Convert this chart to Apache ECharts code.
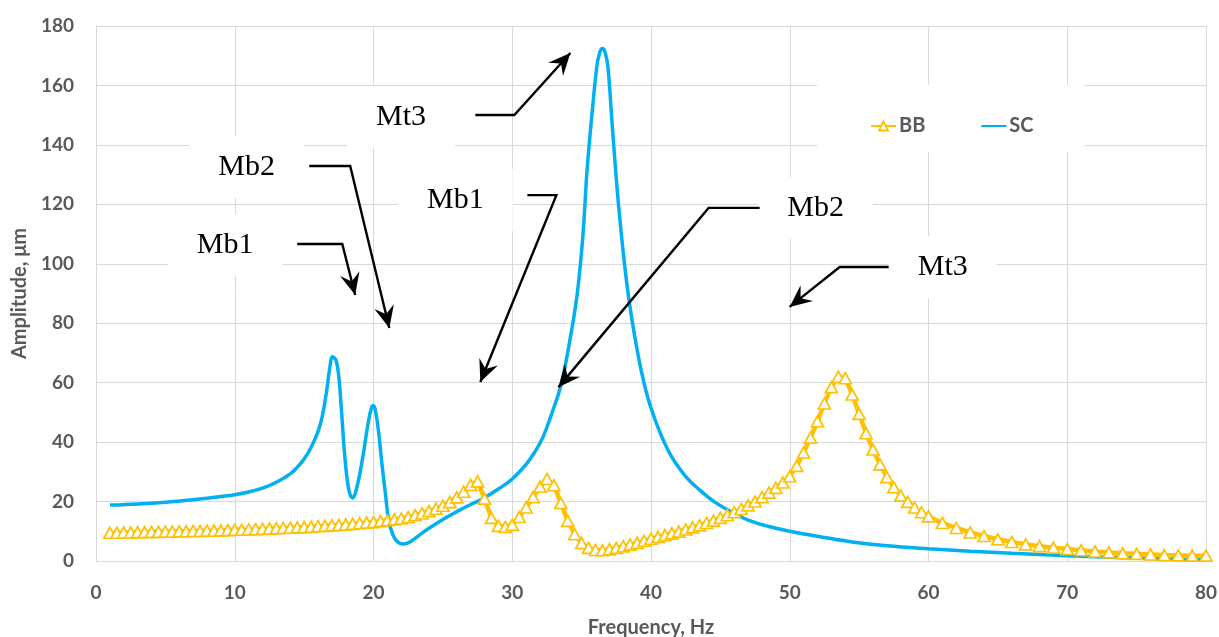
<!DOCTYPE html>
<html>
<head>
<meta charset="utf-8">
<script src="https://cdn.jsdelivr.net/npm/echarts@6/dist/echarts.min.js"></script>
<style>
  html, body { margin: 0; padding: 0; background: #fff; }
  #chart { width: 1219px; height: 637px; }
</style>
</head>
<body>
<div id="chart"></div>
<script>
// BB: sampled every 0.5 Hz up to 60 Hz, then every 1 Hz
var bbFreq = [
  1,1.5,2,2.5,3,3.5,4,4.5,5,5.5,6,6.5,7,7.5,8,8.5,9,9.5,10,
  10.5,11,11.5,12,12.5,13,13.5,14,14.5,15,15.5,16,16.5,17,17.5,18,18.5,19,19.5,20,
  20.5,21,21.5,22,22.5,23,23.5,24,24.5,25,25.5,26,26.5,27,27.5,28,28.5,29,29.5,30,
  30.5,31,31.5,32,32.5,33,33.5,34,34.5,35,35.5,36,36.5,37,37.5,38,38.5,39,39.5,40,
  40.5,41,41.5,42,42.5,43,43.5,44,44.5,45,45.5,46,46.5,47,47.5,48,48.5,49,49.5,50,
  50.5,51,51.5,52,52.5,53,53.5,54,54.5,55,55.5,56,56.5,57,57.5,58,58.5,59,59.5,60,
  61,62,63,64,65,66,67,68,69,70,71,72,73,74,75,76,77,78,79,80
];
var bbAmp = [
  9.5,9.5,9.6,9.6,9.7,9.7,9.8,9.8,9.9,9.9,10.0,10.0,10.1,10.1,10.2,10.2,10.3,10.4,10.5,
  10.5,10.6,10.7,10.8,10.9,11.0,11.1,11.2,11.3,11.4,11.5,11.7,11.8,12.0,12.1,12.3,12.5,12.7,12.9,13.1,
  13.4,13.7,14.0,14.3,14.8,15.4,16.0,16.8,17.6,18.6,19.8,21.4,23.3,25.6,26.8,21.0,14.5,11.8,11.5,12.2,
  14.8,18.0,21.5,25.0,27.6,25.5,19.5,13.5,9.0,6.0,4.4,3.7,3.6,3.9,4.4,4.9,5.5,6.1,6.8,7.5,
  8.1,8.7,9.3,9.9,10.6,11.3,12.0,12.8,13.6,14.5,15.4,16.4,17.5,18.7,20.0,21.5,23.0,24.6,26.4,28.5,
  32.0,36.5,41.5,47.0,53.0,58.5,62.0,61.5,56.0,49.5,43.0,37.5,32.5,28.2,24.8,22.0,19.9,18.0,16.4,15.0,
  12.8,11.1,9.6,8.4,7.3,6.4,5.6,5.0,4.5,4.0,3.6,3.2,2.9,2.6,2.4,2.2,2.0,1.9,1.8,1.8
];

// SC: smooth curve
var scFreq = [1,3,5,7,9,10,11,12,13,14,14.5,15,15.5,16,16.3,16.6,16.85,17.05,17.3,17.5,17.7,17.9,18.1,18.3,18.5,18.7,19,19.3,19.6,19.85,20,20.2,20.4,20.6,20.85,21.1,21.4,21.7,22.1,22.5,23,23.5,24,25,26,27,28,29,30,31,31.6,32.2,32.8,33.5,34.2,34.7,35.1,35.4,35.8,36.1,36.3,36.5,36.7,36.9,37.2,37.6,38.1,38.6,39.3,40,41.2,42.4,43.6,44.6,46,47.1,48.5,50,52,54.5,57,60,63,66,70,75,80];
var scAmp = [18.8,19.2,19.8,20.6,21.7,22.3,23.2,24.5,26.5,29.3,31.5,34.3,38.2,43.5,48.5,56.5,65,68.7,67.5,62,50,37,27.5,22.5,21.2,23,29,37,46,51.5,52.3,49,42,33,23,13.5,8.8,6.6,5.7,6.1,7.6,9.4,11.0,14.0,16.6,19.0,21.3,24.2,27.6,32.5,36.5,41.5,49,59,75.5,90.5,110,132,153,166.5,171,172.4,171,166,147,123,99.5,82,64,51.5,37.5,29,23.5,19.8,16,13.6,11.6,10,8.3,6.4,5.1,4.1,3.3,2.6,1.8,1,0.3];

// callouts: label position and arrow path (data coordinates)
var notes = [
  { text: 'Mt3', at: [21.99, 149.4], path: [[27.34, 150.06], [30.15, 150.06], [34.19, 170.9]] },
  { text: 'Mb2', at: [10.86, 132.56], path: [[15.37, 132.9], [18.32, 132.9], [21.14, 78.4]] },
  { text: 'Mb1', at: [9.31, 106.3], path: [[14.5, 106.65], [17.75, 106.65], [18.68, 89.5]] },
  { text: 'Mb1', at: [25.9, 121.5], path: [[31.09, 123.1], [33.18, 123.1], [27.7, 60.2]] },
  { text: 'Mb2', at: [51.87, 118.8], path: [[47.83, 118.8], [44.15, 118.8], [33.33, 58.5]] },
  { text: 'Mt3', at: [61.03, 98.9], path: [[57.13, 98.9], [53.6, 98.9], [49.99, 85.5]] }
];

var textColor = '#595959';
var gridColor = '#d9d9d9';

function zip(a, b) {
  return a.map(function (v, i) { return [v, b[i]]; });
}

var chart = echarts.init(document.getElementById('chart'));

var option = {
  animation: false,
  textStyle: { fontFamily: 'Lato' },
  grid: { left: 96, right: 13, top: 26, bottom: 76, containLabel: false, outerBoundsMode: 'none' },
  legend: {
    left: 817, top: 85,
    padding: [31, 51, 16, 53],
    backgroundColor: '#fff',
    itemWidth: 25, itemHeight: 11, itemGap: 55,
    textStyle: { color: textColor, fontSize: 20, fontWeight: 'bold', fontFamily: 'Lato', padding: [0, 0, 0, -2] },
    data: [
      { name: 'BB' },
      { name: 'SC', itemStyle: { opacity: 0 } }
    ]
  },
  xAxis: {
    type: 'value', min: 0, max: 80, interval: 10,
    name: 'Frequency, Hz', nameLocation: 'middle', nameGap: 57,
    nameTextStyle: { color: textColor, fontSize: 20, fontWeight: 'bold', fontFamily: 'Lato' },
    axisLine: { lineStyle: { color: gridColor } },
    axisTick: { show: false },
    axisLabel: { color: textColor, fontSize: 19, fontWeight: 'bold', margin: 22 },
    splitLine: { lineStyle: { color: gridColor, width: 1 } }
  },
  yAxis: {
    type: 'value', min: 0, max: 180, interval: 20,
    name: 'Amplitude, μm', nameLocation: 'middle', nameGap: 65,
    nameTextStyle: { color: textColor, fontSize: 20, fontWeight: 'bold', fontFamily: 'Lato' },
    axisLine: { show: true, lineStyle: { color: gridColor } },
    axisTick: { show: false },
    axisLabel: { color: textColor, fontSize: 19, fontWeight: 'bold', margin: 22 },
    splitLine: { lineStyle: { color: gridColor, width: 1 } }
  },
  series: [
    {
      name: 'BB', type: 'line',
      data: zip(bbFreq, bbAmp),
      symbol: 'triangle', symbolSize: [12, 11],
      showAllSymbol: true,
      itemStyle: { color: '#fff', borderColor: '#FFC000', borderWidth: 1.7 },
      lineStyle: { color: '#FFC000', width: 4.5 },
      z: 3
    },
    {
      name: 'SC', type: 'line',
      data: zip(scFreq, scAmp),
      showSymbol: false, symbol: 'none',
      smooth: 0.4,
      itemStyle: { color: '#00B0F0' },
      lineStyle: { color: '#00B0F0', width: 3.5 },
      z: 2
    }
  ]
};

chart.setOption(option);

// callouts drawn on top, anchored to data coordinates
function toPx(p) { return chart.convertToPixel({ gridIndex: 0 }, p); }

function arrowHead(from, tip) {
  var dx = tip[0] - from[0], dy = tip[1] - from[1];
  var len = Math.sqrt(dx * dx + dy * dy);
  var ux = dx / len, uy = dy / len;
  var nx = -uy, ny = ux;
  var L = 22, W = 10, notch = 14;
  return [
    tip,
    [tip[0] - ux * L + nx * W, tip[1] - uy * L + ny * W],
    [tip[0] - ux * notch, tip[1] - uy * notch],
    [tip[0] - ux * L - nx * W, tip[1] - uy * L - ny * W]
  ];
}

var elements = [];
notes.forEach(function (n) {
  var c = toPx(n.at);
  elements.push({
    type: 'text', x: c[0], y: c[1], z: 10,
    style: {
      text: n.text, fill: '#000',
      font: '30px "Liberation Serif"',
      align: 'center', verticalAlign: 'middle',
      backgroundColor: '#fff', padding: [16, 29]
    }
  });
  var pts = n.path.map(toPx);
  elements.push({
    type: 'polyline', z: 11,
    shape: { points: pts },
    style: { stroke: '#000', lineWidth: 2.4, fill: null }
  });
  elements.push({
    type: 'polygon', z: 12,
    shape: { points: arrowHead(pts[pts.length - 2], pts[pts.length - 1]) },
    style: { fill: '#000' }
  });
});

chart.setOption({ graphic: { elements: elements } });
</script>
</body>
</html>
